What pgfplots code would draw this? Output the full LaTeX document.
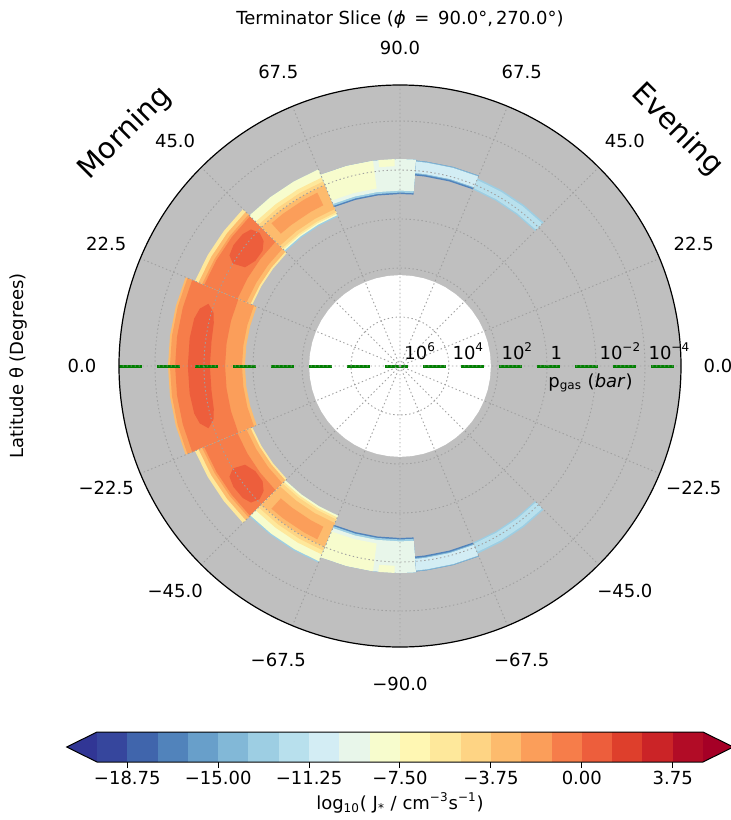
\documentclass[border=0pt]{standalone}
\usepackage{fontspec}
\setmainfont{DejaVu Sans}
\usepackage{pgfplots}
\pgfplotsset{compat=1.18}
\usepgfplotslibrary{polar}

% RdYlBu_r, 20 contour levels from -20 to 5 (step 1.25)
\definecolor{cunder}{RGB}{49,54,149}
\definecolor{k0}{RGB}{54,70,157}
\definecolor{k1}{RGB}{64,101,172}
\definecolor{k2}{RGB}{81,131,187}
\definecolor{k3}{RGB}{104,159,202}
\definecolor{k4}{RGB}{130,184,215}
\definecolor{k5}{RGB}{157,206,227}
\definecolor{k6}{RGB}{184,224,237}
\definecolor{k7}{RGB}{211,237,244}
\definecolor{k8}{RGB}{232,246,234}
\definecolor{k9}{RGB}{247,252,205}
\definecolor{k10}{RGB}{255,247,179}
\definecolor{k11}{RGB}{254,232,155}
\definecolor{k12}{RGB}{254,212,132}
\definecolor{k13}{RGB}{253,187,109}
\definecolor{k14}{RGB}{251,158,90}
\definecolor{k15}{RGB}{246,125,74}
\definecolor{k16}{RGB}{237,94,60}
\definecolor{k17}{RGB}{222,63,44}
\definecolor{k18}{RGB}{203,36,39}
\definecolor{k19}{RGB}{178,12,38}
\definecolor{cover}{RGB}{165,0,38}
\definecolor{cbg}{RGB}{191,191,191}
\definecolor{cgrid}{RGB}{160,160,160}
\definecolor{cgreen}{RGB}{0,128,0}

\begin{document}
\begin{tikzpicture}[font=\fontsize{9}{11}\selectfont]
\path[use as bounding box] (-200pt,-227pt) rectangle (165.5pt,183pt);

% radius = 6 - log10(p_gas / bar), angle: evening on the right, morning on the left
\begin{polaraxis}[
  at={(0pt,0pt)}, anchor=center,
  scale only axis, width=281pt, height=281pt,
  xmin=0, xmax=360, ymin=0, ymax=11.47,
  xtick={0,22.5,45,67.5,90,112.5,135,157.5,180,202.5,225,247.5,270,292.5,315,337.5},
  ytick={0,2,4,6,8,10},
  xticklabels={,,,,,,,,,,,,,,,,}, yticklabels={,,,,,,},
  xtick style={draw=none}, ytick style={draw=none},
  grid=major,
  major grid style={draw=cgrid, line width=0.45pt, dash pattern=on 0.7pt off 1.3pt},
  x axis line style={line width=0.6pt, black},
  y axis line style={draw=none},
  axis on top,
  clip=false,
]
% grey: no nucleation; white: pressures not covered by the model
\addplot[fill=cbg, draw=none] coordinates {(0,11.47)(3.75,11.47)(7.5,11.47)(11.25,11.47)(15,11.47)(18.75,11.47)(22.5,11.47)(26.25,11.47)(30,11.47)(33.75,11.47)(37.5,11.47)(41.25,11.47)(45,11.47)(48.75,11.47)(52.5,11.47)(56.25,11.47)(60,11.47)(63.75,11.47)(67.5,11.47)(71.25,11.47)(75,11.47)(78.75,11.47)(82.5,11.47)(86.25,11.47)(90,11.47)(93.75,11.47)(97.5,11.47)(101.25,11.47)(105,11.47)(108.75,11.47)(112.5,11.47)(116.25,11.47)(120,11.47)(123.75,11.47)(127.5,11.47)(131.25,11.47)(135,11.47)(138.75,11.47)(142.5,11.47)(146.25,11.47)(150,11.47)(153.75,11.47)(157.5,11.47)(161.25,11.47)(165,11.47)(168.75,11.47)(172.5,11.47)(176.25,11.47)(180,11.47)(183.75,11.47)(187.5,11.47)(191.25,11.47)(195,11.47)(198.75,11.47)(202.5,11.47)(206.25,11.47)(210,11.47)(213.75,11.47)(217.5,11.47)(221.25,11.47)(225,11.47)(228.75,11.47)(232.5,11.47)(236.25,11.47)(240,11.47)(243.75,11.47)(247.5,11.47)(251.25,11.47)(255,11.47)(258.75,11.47)(262.5,11.47)(266.25,11.47)(270,11.47)(273.75,11.47)(277.5,11.47)(281.25,11.47)(285,11.47)(288.75,11.47)(292.5,11.47)(296.25,11.47)(300,11.47)(303.75,11.47)(307.5,11.47)(311.25,11.47)(315,11.47)(318.75,11.47)(322.5,11.47)(326.25,11.47)(330,11.47)(333.75,11.47)(337.5,11.47)(341.25,11.47)(345,11.47)(348.75,11.47)(352.5,11.47)(356.25,11.47)};
\addplot[fill=white, draw=none] coordinates {(0,3.71)(7.5,3.71)(15,3.71)(22.5,3.71)(30,3.71)(37.5,3.71)(45,3.71)(52.5,3.71)(60,3.71)(67.5,3.71)(75,3.71)(82.5,3.71)(90,3.71)(97.5,3.71)(105,3.71)(112.5,3.71)(120,3.71)(127.5,3.71)(135,3.71)(142.5,3.71)(150,3.71)(157.5,3.71)(165,3.71)(172.5,3.71)(180,3.71)(187.5,3.71)(195,3.71)(202.5,3.71)(210,3.71)(217.5,3.71)(225,3.71)(232.5,3.71)(240,3.71)(247.5,3.71)(255,3.71)(262.5,3.71)(270,3.71)(277.5,3.71)(285,3.71)(292.5,3.71)(300,3.71)(307.5,3.71)(315,3.71)(322.5,3.71)(330,3.71)(337.5,3.71)(345,3.71)(352.5,3.71)};

% ---- morning, equatorial column (lat -22.5 .. 22.5)
\addplot[fill=k13, draw=none] coordinates {(157.5,9.47)(165,9.47)(172.5,9.47)(180,9.47)(187.5,9.47)(195,9.47)(202.5,9.47)(202.5,6.33)(195,6.33)(187.5,6.33)(180,6.33)(172.5,6.33)(165,6.33)(157.5,6.33)};
\addplot[fill=k14, draw=none] coordinates {(157.5,9.39)(165,9.39)(172.5,9.39)(180,9.39)(187.5,9.39)(195,9.39)(202.5,9.39)(202.5,6.45)(195,6.45)(187.5,6.45)(180,6.45)(172.5,6.45)(165,6.45)(157.5,6.45)};
\addplot[fill=k15, draw=none] coordinates {(157.5,9.18)(165,9.18)(172.5,9.18)(180,9.18)(187.5,9.18)(195,9.18)(202.5,9.18)(202.5,7.14)(195,7.14)(187.5,7.14)(180,7.14)(172.5,7.14)(165,7.14)(157.5,7.14)};
\addplot[fill=k16, draw=none] coordinates {(162,8.22)(164,8.50)(167,8.62)(172.5,8.66)(180,8.66)(187.5,8.66)(193,8.62)(196,8.50)(198,8.22)(196,7.92)(193,7.80)(187.5,7.76)(180,7.76)(172.5,7.76)(167,7.80)(164,7.92)};

% ---- morning, lat 22.5 .. 45 (north) and -45 .. -22.5 (south)
\addplot[fill=k11, draw=none] coordinates {(135,9.06)(142.5,9.06)(150,9.06)(157.5,9.06)(157.5,6.53)(150,6.53)(142.5,6.53)(135,6.53)};
\addplot[fill=k13, draw=none] coordinates {(135,8.90)(142.5,8.90)(150,8.90)(157.5,8.90)(157.5,6.61)(150,6.61)(142.5,6.61)(135,6.61)};
\addplot[fill=k14, draw=none] coordinates {(135,8.74)(142.5,8.74)(150,8.74)(157.5,8.74)(157.5,6.78)(150,6.78)(142.5,6.78)(135,6.78)};
\addplot[fill=k15, draw=none] coordinates {(135,8.65)(142.5,8.65)(150,8.65)(157.5,8.65)(157.5,7.18)(150,7.18)(142.5,7.18)(135,7.18)};
\addplot[fill=k16, draw=none] coordinates {(136.5,7.90)(137.5,8.25)(140,8.38)(144,8.40)(147,8.30)(148.5,8.00)(147.5,7.50)(144,7.30)(140,7.32)(137.5,7.55)};
\addplot[fill=k11, draw=none] coordinates {(202.5,9.06)(210,9.06)(217.5,9.06)(225,9.06)(225,6.53)(217.5,6.53)(210,6.53)(202.5,6.53)};
\addplot[fill=k13, draw=none] coordinates {(202.5,8.90)(210,8.90)(217.5,8.90)(225,8.90)(225,6.61)(217.5,6.61)(210,6.61)(202.5,6.61)};
\addplot[fill=k14, draw=none] coordinates {(202.5,8.74)(210,8.74)(217.5,8.74)(225,8.74)(225,6.78)(217.5,6.78)(210,6.78)(202.5,6.78)};
\addplot[fill=k15, draw=none] coordinates {(202.5,8.65)(210,8.65)(217.5,8.65)(225,8.65)(225,7.18)(217.5,7.18)(210,7.18)(202.5,7.18)};
\addplot[fill=k16, draw=none] coordinates {(223.5,7.90)(222.5,8.25)(220,8.38)(216,8.40)(213,8.30)(211.5,8.00)(212.5,7.50)(216,7.30)(220,7.32)(222.5,7.55)};

% ---- morning, lat 45 .. 67.5 and -67.5 .. -45
\addplot[fill=k5, draw=none] coordinates {(112.5,8.69)(120,8.69)(127.5,8.69)(135,8.69)(135,6.61)(127.5,6.61)(120,6.61)(112.5,6.61)};
\addplot[fill=k9, draw=none] coordinates {(112.5,8.69)(120,8.69)(127.5,8.69)(135,8.69)(135,6.67)(127.5,6.67)(120,6.67)(112.5,6.67)};
\addplot[fill=k11, draw=none] coordinates {(112.5,8.33)(120,8.33)(127.5,8.33)(135,8.33)(135,6.73)(127.5,6.73)(120,6.73)(112.5,6.73)};
\addplot[fill=k12, draw=none] coordinates {(112.5,8.16)(120,8.16)(127.5,8.16)(135,8.16)(135,6.80)(127.5,6.80)(120,6.80)(112.5,6.80)};
\addplot[fill=k13, draw=none] coordinates {(112.5,8.00)(120,8.00)(127.5,8.00)(135,8.00)(135,6.94)(127.5,6.94)(120,6.94)(112.5,6.94)};
\addplot[fill=k14, draw=none] coordinates {(115.5,7.84)(120,7.84)(127.5,7.84)(132,7.84)(132,7.27)(127.5,7.27)(120,7.27)(115.5,7.27)};
\addplot[fill=k5, draw=none] coordinates {(225,8.69)(232.5,8.69)(240,8.69)(247.5,8.69)(247.5,6.61)(240,6.61)(232.5,6.61)(225,6.61)};
\addplot[fill=k9, draw=none] coordinates {(225,8.63)(232.5,8.63)(240,8.63)(247.5,8.63)(247.5,6.61)(240,6.61)(232.5,6.61)(225,6.61)};
\addplot[fill=k11, draw=none] coordinates {(225,8.33)(232.5,8.33)(240,8.33)(247.5,8.33)(247.5,6.69)(240,6.69)(232.5,6.69)(225,6.69)};
\addplot[fill=k12, draw=none] coordinates {(225,8.16)(232.5,8.16)(240,8.16)(247.5,8.16)(247.5,6.78)(240,6.78)(232.5,6.78)(225,6.78)};
\addplot[fill=k13, draw=none] coordinates {(225,8.00)(232.5,8.00)(240,8.00)(247.5,8.00)(247.5,6.94)(240,6.94)(232.5,6.94)(225,6.94)};
\addplot[fill=k14, draw=none] coordinates {(228,7.84)(232.5,7.84)(240,7.84)(244.5,7.84)(244.5,7.27)(240,7.27)(232.5,7.27)(228,7.27)};

% ---- polar caps (morning 67.5 .. 90, evening 90 .. 85.5)
\addplot[fill=k2, draw=none] coordinates {(85.5,8.45)(90,8.45)(97.5,8.45)(105,8.45)(112.5,8.45)(112.5,7.02)(105,7.02)(97.5,7.02)(90,7.02)(85.5,7.02)};
\addplot[fill=k5, draw=none] coordinates {(85.5,8.45)(90,8.45)(97.5,8.45)(105,8.45)(112.5,8.45)(112.5,7.08)(105,7.08)(97.5,7.08)(90,7.08)(85.5,7.08)};
\addplot[fill=k8, draw=none] coordinates {(85.5,8.45)(90,8.45)(97.5,8.45)(105,8.45)(112.5,8.45)(112.5,7.16)(105,7.16)(97.5,7.16)(90,7.16)(85.5,7.16)};
\addplot[fill=k9, draw=none] coordinates {(97.5,8.45)(105,8.45)(112.5,8.45)(112.5,7.31)(105,7.31)(97.5,7.31)};
\addplot[fill=k9, draw=none] coordinates {(91.5,8.45)(96,8.45)(96,8.16)(91.5,8.16)};
\addplot[fill=k2, draw=none] coordinates {(247.5,8.45)(255,8.45)(262.5,8.45)(270,8.45)(274.5,8.45)(274.5,7.02)(270,7.02)(262.5,7.02)(255,7.02)(247.5,7.02)};
\addplot[fill=k5, draw=none] coordinates {(247.5,8.45)(255,8.45)(262.5,8.45)(270,8.45)(274.5,8.45)(274.5,7.08)(270,7.08)(262.5,7.08)(255,7.08)(247.5,7.08)};
\addplot[fill=k8, draw=none] coordinates {(247.5,8.45)(255,8.45)(262.5,8.45)(270,8.45)(274.5,8.45)(274.5,7.16)(270,7.16)(262.5,7.16)(255,7.16)(247.5,7.16)};
\addplot[fill=k9, draw=none] coordinates {(247.5,8.45)(255,8.45)(262.5,8.45)(262.5,7.31)(255,7.31)(247.5,7.31)};
\addplot[fill=k9, draw=none] coordinates {(264,8.45)(268.5,8.45)(268.5,8.16)(264,8.16)};

% ---- evening, lat 67.5 .. 85.5 and -85.5 .. -67.5
\addplot[fill=k2, draw=none] coordinates {(67.5,8.41)(75,8.41)(82.5,8.41)(85.5,8.41)(85.5,7.80)(82.5,7.80)(75,7.80)(67.5,7.80)};
\addplot[fill=k4, draw=none] coordinates {(67.5,8.41)(75,8.41)(82.5,8.41)(85.5,8.41)(85.5,7.86)(82.5,7.86)(75,7.86)(67.5,7.86)};
\addplot[fill=k7, draw=none] coordinates {(67.5,8.37)(75,8.37)(82.5,8.37)(85.5,8.37)(85.5,7.90)(82.5,7.90)(75,7.90)(67.5,7.90)};
\addplot[fill=k2, draw=none] coordinates {(274.5,8.41)(277.5,8.41)(285,8.41)(292.5,8.41)(292.5,7.80)(285,7.80)(277.5,7.80)(274.5,7.80)};
\addplot[fill=k4, draw=none] coordinates {(274.5,8.41)(277.5,8.41)(285,8.41)(292.5,8.41)(292.5,7.86)(285,7.86)(277.5,7.86)(274.5,7.86)};
\addplot[fill=k7, draw=none] coordinates {(274.5,8.37)(277.5,8.37)(285,8.37)(292.5,8.37)(292.5,7.90)(285,7.90)(277.5,7.90)(274.5,7.90)};

% ---- evening, lat 45 .. 67.5 and -67.5 .. -45
\addplot[fill=k5, draw=none] coordinates {(45,8.29)(52.5,8.29)(60,8.29)(67.5,8.29)(67.5,7.80)(60,7.80)(52.5,7.80)(45,7.80)};
\addplot[fill=k6, draw=none] coordinates {(45,8.22)(52.5,8.22)(60,8.22)(67.5,8.22)(67.5,7.86)(60,7.86)(52.5,7.86)(45,7.86)};
\addplot[fill=k5, draw=none] coordinates {(292.5,8.29)(300,8.29)(307.5,8.29)(315,8.29)(315,7.80)(307.5,7.80)(300,7.80)(292.5,7.80)};
\addplot[fill=k6, draw=none] coordinates {(292.5,8.22)(300,8.22)(307.5,8.22)(315,8.22)(315,7.86)(307.5,7.86)(300,7.86)(292.5,7.86)};

% equator
\addplot[cgreen, line width=1.5pt, dash pattern=on 11.5pt off 7.5pt] coordinates {(180,11.47) (0,11.47)};

% latitude labels
\node at (axis cs:0,12.98) {0.0};
\node at (axis cs:22.5,12.98) {22.5};
\node at (axis cs:45,12.98) {45.0};
\node at (axis cs:67.5,12.98) {67.5};
\node at (axis cs:90,12.98) {90.0};
\node at (axis cs:112.5,12.98) {67.5};
\node at (axis cs:135,12.98) {45.0};
\node at (axis cs:157.5,12.98) {22.5};
\node at (axis cs:180,12.98) {0.0};
\node at (axis cs:202.5,12.98) {−22.5};
\node at (axis cs:225,12.98) {−45.0};
\node at (axis cs:247.5,12.98) {−67.5};
\node at (axis cs:270,12.98) {−90.0};
\node at (axis cs:292.5,12.98) {−67.5};
\node at (axis cs:315,12.98) {−45.0};
\node at (axis cs:337.5,12.98) {−22.5};

% pressure labels
\node[anchor=south west, inner sep=0pt, xshift=2pt, yshift=3pt] at (axis cs:0,0) {10\textsuperscript{6}};
\node[anchor=south west, inner sep=0pt, xshift=1.6pt, yshift=3pt] at (axis cs:0,2) {10\textsuperscript{4}};
\node[anchor=south west, inner sep=0pt, xshift=1.6pt, yshift=3pt] at (axis cs:0,4) {10\textsuperscript{2}};
\node[anchor=south west, inner sep=0pt, xshift=1.6pt, yshift=3pt] at (axis cs:0,6) {1};
\node[anchor=south west, inner sep=0pt, xshift=1.6pt, yshift=3pt] at (axis cs:0,8) {10\textsuperscript{−2}};
\node[anchor=south west, inner sep=0pt, xshift=1.6pt, yshift=3pt] at (axis cs:0,10) {10\textsuperscript{−4}};
\node[anchor=west, inner sep=0pt, yshift=-8.5pt] at (axis cs:0,6.04) {p\textsubscript{gas} (\textit{bar})};
\end{polaraxis}

% colour bar
\begin{axis}[
  at={(0pt,-190.5pt)}, anchor=center,
  scale only axis, width=333.3pt, height=15pt,
  xmin=-21.25, xmax=6.25, ymin=0, ymax=1,
  axis x line*=bottom, axis y line=none,
  x axis line style={draw=none},
  xtick={-18.75,-15,-11.25,-7.5,-3.75,0,3.75},
  xticklabels={−18.75,−15.00,−11.25,−7.50,−3.75,0.00,3.75},
  tick align=outside, major tick length=3pt,
  xtick style={black, line width=0.5pt},
  xticklabel style={inner sep=1.5pt},
  clip=false,
]
\addplot[fill=cunder, draw=none] coordinates {(-20,0)(-21.25,0.5)(-20,1)};
\addplot[fill=k0, draw=none] coordinates {(-20,0)(-18.75,0)(-18.75,1)(-20,1)};
\addplot[fill=k1, draw=none] coordinates {(-18.75,0)(-17.5,0)(-17.5,1)(-18.75,1)};
\addplot[fill=k2, draw=none] coordinates {(-17.5,0)(-16.25,0)(-16.25,1)(-17.5,1)};
\addplot[fill=k3, draw=none] coordinates {(-16.25,0)(-15,0)(-15,1)(-16.25,1)};
\addplot[fill=k4, draw=none] coordinates {(-15,0)(-13.75,0)(-13.75,1)(-15,1)};
\addplot[fill=k5, draw=none] coordinates {(-13.75,0)(-12.5,0)(-12.5,1)(-13.75,1)};
\addplot[fill=k6, draw=none] coordinates {(-12.5,0)(-11.25,0)(-11.25,1)(-12.5,1)};
\addplot[fill=k7, draw=none] coordinates {(-11.25,0)(-10,0)(-10,1)(-11.25,1)};
\addplot[fill=k8, draw=none] coordinates {(-10,0)(-8.75,0)(-8.75,1)(-10,1)};
\addplot[fill=k9, draw=none] coordinates {(-8.75,0)(-7.5,0)(-7.5,1)(-8.75,1)};
\addplot[fill=k10, draw=none] coordinates {(-7.5,0)(-6.25,0)(-6.25,1)(-7.5,1)};
\addplot[fill=k11, draw=none] coordinates {(-6.25,0)(-5,0)(-5,1)(-6.25,1)};
\addplot[fill=k12, draw=none] coordinates {(-5,0)(-3.75,0)(-3.75,1)(-5,1)};
\addplot[fill=k13, draw=none] coordinates {(-3.75,0)(-2.5,0)(-2.5,1)(-3.75,1)};
\addplot[fill=k14, draw=none] coordinates {(-2.5,0)(-1.25,0)(-1.25,1)(-2.5,1)};
\addplot[fill=k15, draw=none] coordinates {(-1.25,0)(0,0)(0,1)(-1.25,1)};
\addplot[fill=k16, draw=none] coordinates {(0,0)(1.25,0)(1.25,1)(0,1)};
\addplot[fill=k17, draw=none] coordinates {(1.25,0)(2.5,0)(2.5,1)(1.25,1)};
\addplot[fill=k18, draw=none] coordinates {(2.5,0)(3.75,0)(3.75,1)(2.5,1)};
\addplot[fill=k19, draw=none] coordinates {(3.75,0)(5,0)(5,1)(3.75,1)};
\addplot[fill=cover, draw=none] coordinates {(5,0)(6.25,0.5)(5,1)};
\addplot[black, line width=0.5pt] coordinates {(-20,0)(5,0)(6.25,0.5)(5,1)(-20,1)(-21.25,0.5)(-20,0)};
\end{axis}

\node at (0pt,173pt) {Terminator Slice (\textit{ϕ}\, = \,90.0°,\,270.0°)};
\node[rotate=90] at (-191pt,0pt) {Latitude θ (Degrees)};
\node[rotate=45, font=\fontsize{14.5}{17}\selectfont] at (-137.5pt,116.5pt) {Morning};
\node[rotate=-45, font=\fontsize{14.5}{17}\selectfont] at (138.5pt,118pt) {Evening};
\node at (0pt,-218.5pt) {log\textsubscript{10}( J\textsubscript{*} / cm\textsuperscript{−3}s\textsuperscript{−1})};
\end{tikzpicture}
\end{document}
